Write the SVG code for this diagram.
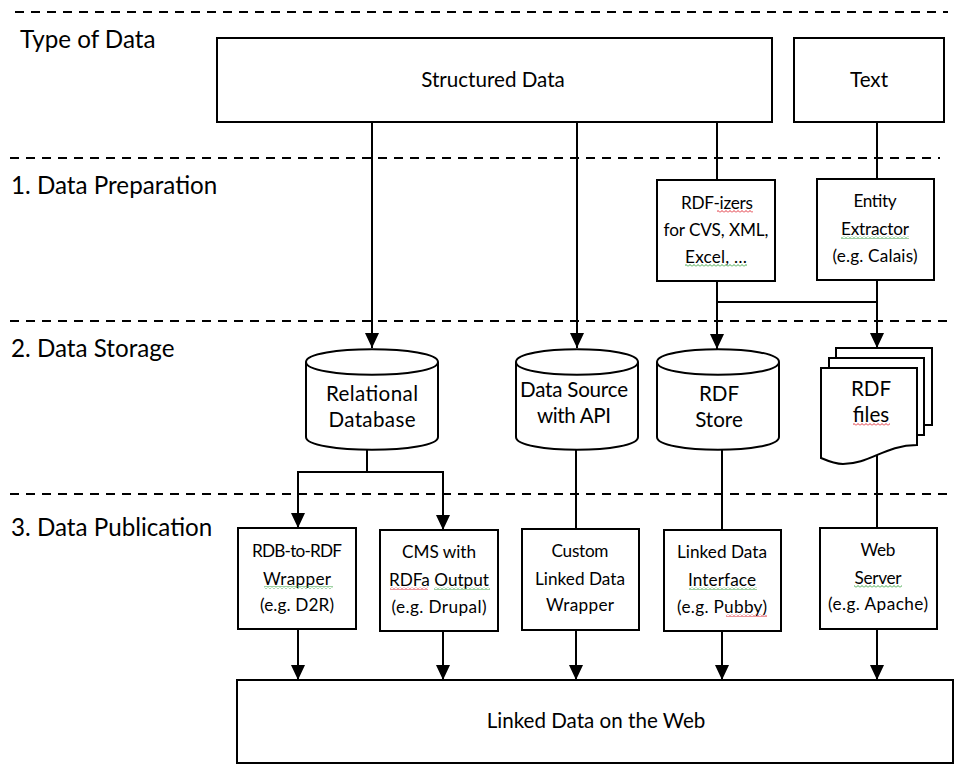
<svg xmlns="http://www.w3.org/2000/svg" width="966" height="772" viewBox="0 0 966 772">
<style>
.b{fill:#fff;stroke:#000;stroke-width:2}
.c{fill:none;stroke:#000;stroke-width:2}
.d{fill:none;stroke:#000;stroke-width:2;stroke-dasharray:9 7}
text{font-family:"Lato","Liberation Sans",sans-serif;font-size:17.2px;fill:#000;text-anchor:middle}
.h{font-size:24.2px;text-anchor:start}
.l{font-size:20.6px}
</style>
<defs>
<marker id="a" markerUnits="userSpaceOnUse" markerWidth="15" markerHeight="15" refX="15" refY="7.5" orient="auto"><path d="M0 0.5L15 7.5L0 14.5Z" fill="#000"/></marker>
<pattern id="zr" patternUnits="userSpaceOnUse" width="4" height="3"><path d="M0 2.5L2 0.5L4 2.5" fill="none" stroke="#e0303a" stroke-width="1"/></pattern>
<pattern id="zg" patternUnits="userSpaceOnUse" width="4" height="3"><path d="M0 2.5L2 0.5L4 2.5" fill="none" stroke="#3fa648" stroke-width="1"/></pattern>
</defs>
<rect width="966" height="772" fill="#fff"/>
<g id="bands">
<path class="d" d="M15 12H948"/><path class="d" d="M10 158H940"/><path class="d" d="M10 321H952"/><path class="d" d="M10 494H950"/>
<text class="h" x="20" y="48">Type of Data</text>
<text class="h" x="11" y="194">1. Data Preparation</text>
<text class="h" x="11" y="357">2. Data Storage</text>
<text class="h" x="11" y="536">3. Data Publication</text>
</g>
<g id="connectors">
<path class="c" d="M372 122V348" marker-end="url(#a)"/>
<path class="c" d="M577 122V348" marker-end="url(#a)"/>
<path class="c" d="M717 122V180"/>
<path class="c" d="M877 122V179"/>
<path class="c" d="M717 281V349" marker-end="url(#a)"/>
<path class="c" d="M877 280V348" marker-end="url(#a)"/>
<path class="c" d="M717 302H877"/>
<path class="c" d="M367 449V472"/>
<path class="c" d="M367 472H298V528" marker-end="url(#a)"/>
<path class="c" d="M367 472H443V530" marker-end="url(#a)"/>
<path class="c" d="M576 450V529"/>
<path class="c" d="M722 450V530"/>
<path class="c" d="M877 455V528"/>
<path class="c" d="M298 629V680" marker-end="url(#a)"/>
<path class="c" d="M443 631V680" marker-end="url(#a)"/>
<path class="c" d="M576 630V680" marker-end="url(#a)"/>
<path class="c" d="M722 631V680" marker-end="url(#a)"/>
<path class="c" d="M877 629V680" marker-end="url(#a)"/>
</g>
<g id="structured"><rect class="b" x="217" y="38" width="555" height="84"/><text class="l" x="493" y="87">Structured Data</text></g>
<g id="text-node"><rect class="b" x="794" y="38" width="150" height="84"/><text class="l" x="869" y="87">Text</text></g>
<g id="rdfizers"><rect class="b" x="657" y="180" width="118" height="101"/>
<text x="717" y="209" textLength="72">RDF-izers</text><text x="716" y="236" textLength="105">for CVS, XML,</text><text x="716" y="263" textLength="62">Excel, …</text>
<rect x="717" y="210" width="36" height="3" fill="url(#zr)"/><rect x="685" y="264" width="62" height="3" fill="url(#zg)"/></g>
<g id="entity"><rect class="b" x="817" y="179" width="117" height="101"/>
<text x="875" y="207" textLength="43">Entity</text><text x="875" y="235" textLength="68">Extractor</text><text x="875" y="262" textLength="85">(e.g. Calais)</text>
<rect x="841" y="236" width="68" height="3" fill="url(#zg)"/></g>
<g id="relational"><path class="b" d="M306 362C306 345 438 345 438 362V437C438 454 306 454 306 437Z"/><path class="c" d="M306 362C306 379 438 379 438 362"/>
<text class="l" x="372" y="401" textLength="92">Relational</text><text class="l" x="372" y="427" textLength="87">Database</text></g>
<g id="datasource"><path class="b" d="M516 362C516 345 638 345 638 362V437C638 454 516 454 516 437Z"/><path class="c" d="M516 362C516 379 638 379 638 362"/>
<text class="l" x="574" y="397" textLength="108">Data Source</text><text class="l" x="574" y="423" textLength="74">with API</text></g>
<g id="rdfstore"><path class="b" d="M657 362C657 345 779 345 779 362V437C779 454 657 454 657 437Z"/><path class="c" d="M657 362C657 379 779 379 779 362"/>
<text class="l" x="719" y="401">RDF</text><text class="l" x="719" y="427">Store</text></g>
<g id="rdffiles">
<rect class="b" x="836" y="348" width="96" height="77"/>
<rect class="b" x="829" y="358" width="95" height="77"/>
<path class="b" d="M821 368H917V445C885 445 870 464 843 464C835 464 828 461 821 458Z"/>
<text class="l" x="871" y="396">RDF</text><text class="l" x="871" y="422">files</text>
<rect x="853" y="423" width="37" height="3" fill="url(#zr)"/></g>
<g id="rdb"><rect class="b" x="238" y="528" width="118" height="101"/>
<text x="297" y="557" textLength="90">RDB-to-RDF</text><text x="297" y="585" textLength="68">Wrapper</text><text x="297" y="611" textLength="74">(e.g. D2R)</text>
<rect x="264" y="586" width="69" height="3" fill="url(#zg)"/></g>
<g id="cms"><rect class="b" x="380" y="530" width="118" height="101"/>
<text x="439" y="558" textLength="74">CMS with</text><text x="439" y="586" textLength="100">RDFa Output</text><text x="439" y="613" textLength="95">(e.g. Drupal)</text>
<rect x="390" y="587" width="38" height="3" fill="url(#zr)"/><rect x="434" y="587" width="56" height="3" fill="url(#zg)"/></g>
<g id="custom"><rect class="b" x="522" y="529" width="117" height="101"/>
<text x="580" y="557" textLength="57">Custom</text><text x="580" y="585" textLength="90">Linked Data</text><text x="580" y="611" textLength="68">Wrapper</text></g>
<g id="interface"><rect class="b" x="664" y="530" width="117" height="101"/>
<text x="722" y="558" textLength="90">Linked Data</text><text x="722" y="586" textLength="68">Interface</text><text x="722" y="613" textLength="90">(e.g. Pubby)</text>
<rect x="689" y="587" width="68" height="3" fill="url(#zg)"/><rect x="726" y="614" width="41" height="3" fill="url(#zr)"/></g>
<g id="webserver"><rect class="b" x="820" y="528" width="117" height="101"/>
<text x="878" y="556" textLength="35">Web</text><text x="878" y="584" textLength="47">Server</text><text x="878" y="610" textLength="100">(e.g. Apache)</text>
<rect x="854" y="585" width="48" height="3" fill="url(#zg)"/></g>
<g id="linked"><rect class="b" x="237" y="680" width="716" height="83"/><text class="l" x="596" y="728">Linked Data on the Web</text></g>
</svg>
